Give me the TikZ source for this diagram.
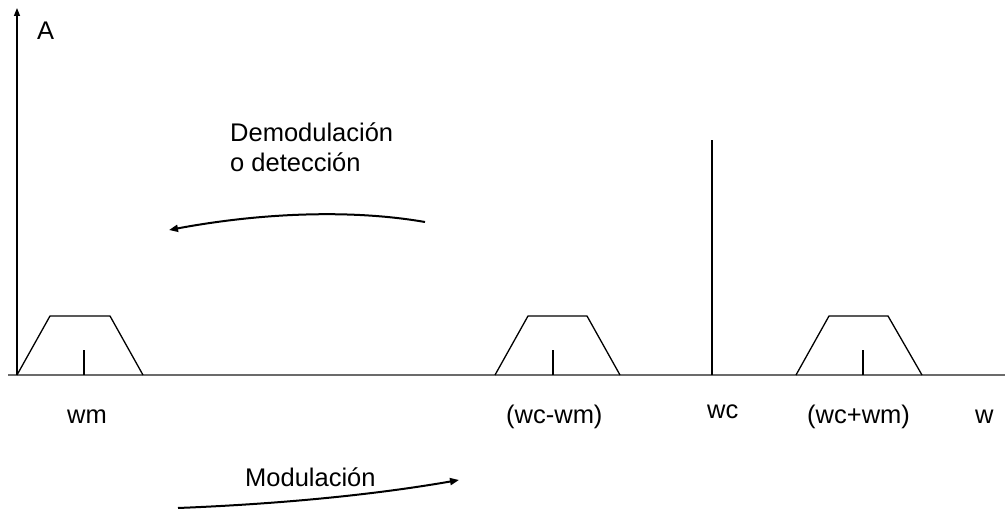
\documentclass[tikz,border=0pt]{standalone}
\usepackage{fontspec}
\setmainfont{Liberation Sans}
\usetikzlibrary{arrows.meta}
\begin{document}
\begin{tikzpicture}[x=1pt,y=-1pt,
  lbl/.style={inner sep=0pt,anchor=base west,font=\fontsize{25.5}{30}\selectfont},
  spec/.style={line width=1.3pt,black},
  axisx/.style={line width=2pt,draw=black!58},
  axisy/.style={line width=1.4pt,black,-{Triangle[length=8pt,width=6pt]}},
  flowarrow/.style={line width=2pt,-{Triangle[length=9pt,width=7pt]}}]
\useasboundingbox (0,0) rectangle (1005,511);

% axes
\coordinate (o) at (17,375);
\coordinate (ytop) at (17,8);
\draw[axisx] (8,375) -- (1005,375);
\draw[axisy] (o) -- (ytop);

% baseband spectrum
\draw[spec] (17,375) -- (50,316) -- (110,316) -- (143,375);
\draw[spec] (84,375) -- (84,350);

% lower sideband
\draw[spec] (495,375) -- (528,316) -- (587,316) -- (620,375);
\draw[spec] (553,375) -- (553,350);

% carrier
\draw[spec] (712,375) -- (712,140);

% upper sideband
\draw[spec] (796,375) -- (829,316) -- (888,316) -- (922,375);
\draw[spec] (863,375) -- (863,350);

% labels
\node[lbl] (a) at (37,40) {A};
\node[lbl] (dem1) at (230,141) {Demodulación};
\node[lbl] (dem2) at (230,171) {o detección};
\node[lbl] (wm) at (67,423) {wm};
\node[lbl] (wcwm) at (506,423) {(wc-wm)};
\node[lbl] (wc) at (707,418) {wc};
\node[lbl] (wcpwm) at (807,423) {(wc+wm)};
\node[lbl] (w) at (975,423) {w};
\node[lbl] (mod) at (245,486) {Modulación};

% direction arrows
\coordinate (ds) at (425,222);
\coordinate (de) at (169,230);
\coordinate (ms) at (178,508);
\coordinate (me) at (459,480);
\draw[flowarrow] (ds) .. controls (350,209) and (260,213) .. (de);
\draw[flowarrow] (ms) .. controls (279,504) and (373,495) .. (me);
\end{tikzpicture}
\end{document}
